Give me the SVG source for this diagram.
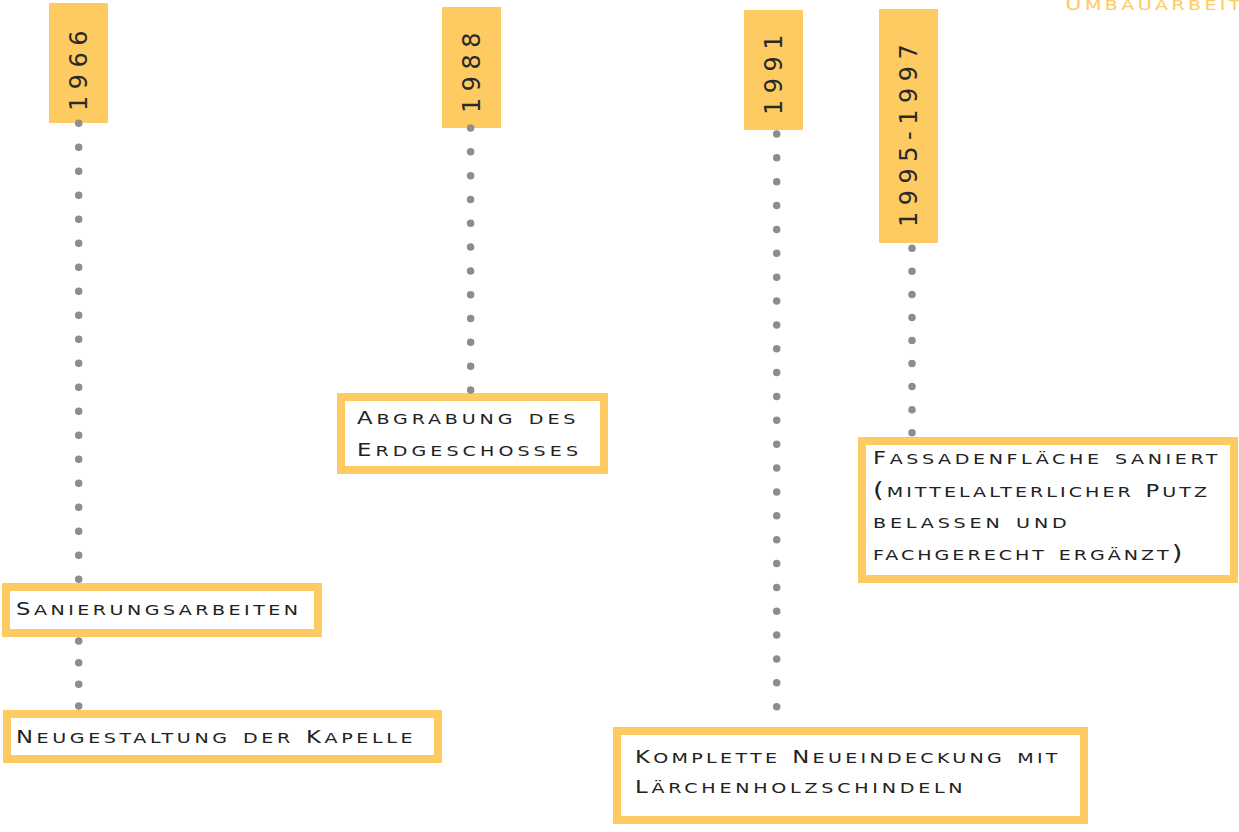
<svg xmlns="http://www.w3.org/2000/svg" width="1239" height="832" viewBox="0 0 1239 832">
<style>
.yb{fill:#FECB62;}
.tb{fill:#FFFFFF;stroke:#FECB62;stroke-width:8;}
.yt{font-family:"DejaVu Sans",sans-serif;font-size:24px;fill:#2a2a2a;letter-spacing:6.5px;}
.tt{font-family:"DejaVu Sans",sans-serif;font-size:21px;font-variant:small-caps;fill:#222222;}
.hd{font-family:"DejaVu Sans",sans-serif;font-size:21px;font-variant:small-caps;fill:#FECB62;}
.c{font-size:17.5px;}
.dot{fill:none;stroke:#8d8d8d;stroke-width:7.5;stroke-linecap:round;}
</style>
<rect width="1239" height="832" fill="#FFFFFF"/>
<g transform="translate(1065,10) scale(1.3,1)"><text class="hd" x="0" y="0" textLength="135" lengthAdjust="spacing"><tspan class="c">U</tspan>mbauarbeit</text></g>

<g id="y1966">
<rect class="yb" x="49" y="3" width="59" height="120"/>
<text class="yt" transform="translate(87,111) rotate(-90)" x="0" y="0">1966</text>
</g>
<g id="y1988">
<rect class="yb" x="442" y="7" width="59" height="121"/>
<text class="yt" transform="translate(480,113) rotate(-90)" x="0" y="0">1988</text>
</g>
<g id="y1991">
<rect class="yb" x="744" y="10" width="59" height="120"/>
<text class="yt" transform="translate(782,115) rotate(-90)" x="0" y="0">1991</text>
</g>
<g id="y1995">
<rect class="yb" x="879" y="9" width="59" height="234"/>
<text class="yt" transform="translate(917,227) rotate(-90)" x="0" y="0">1995-1997</text>
</g>

<g id="n-sanierung">
<rect class="tb" x="6" y="587" width="312" height="46"/>
<g transform="translate(16,615) scale(1.3,1)"><text class="tt" x="0" y="0" textLength="217" lengthAdjust="spacing"><tspan class="c">S</tspan>anierungsarbeiten</text></g>
</g>
<g id="n-neugestaltung">
<rect class="tb" x="7" y="714" width="431" height="45"/>
<g transform="translate(16,743) scale(1.3,1)"><text class="tt" x="0" y="0" textLength="305" lengthAdjust="spacing"><tspan class="c">N</tspan>eugestaltung der <tspan class="c">K</tspan>apelle</text></g>
</g>
<g id="n-abgrabung">
<rect class="tb" x="341" y="397" width="263" height="73"/>
<g transform="translate(357,424) scale(1.3,1)"><text class="tt" x="0" y="0" textLength="168" lengthAdjust="spacing"><tspan class="c">A</tspan>bgrabung des</text></g>
<g transform="translate(357,456) scale(1.3,1)"><text class="tt" x="0" y="0" textLength="170" lengthAdjust="spacing"><tspan class="c">E</tspan>rdgeschosses</text></g>
</g>
<g id="n-fassade">
<rect class="tb" x="862" y="441" width="372" height="138"/>
<g transform="translate(873,464) scale(1.3,1)"><text class="tt" x="0" y="0" textLength="265" lengthAdjust="spacing"><tspan class="c">F</tspan>assadenfläche saniert</text></g>
<g transform="translate(873,497) scale(1.3,1)"><text class="tt" x="0" y="0" textLength="257" lengthAdjust="spacing">(mittelalterlicher <tspan class="c">P</tspan>utz</text></g>
<g transform="translate(873,528) scale(1.3,1)"><text class="tt" x="0" y="0" textLength="149" lengthAdjust="spacing">belassen und</text></g>
<g transform="translate(873,560) scale(1.3,1)"><text class="tt" x="0" y="0" textLength="238" lengthAdjust="spacing">fachgerecht ergänzt)</text></g>
</g>
<g id="n-komplette">
<rect class="tb" x="617" y="731" width="467" height="89"/>
<g transform="translate(635,763) scale(1.3,1)"><text class="tt" x="0" y="0" textLength="325" lengthAdjust="spacing"><tspan class="c">K</tspan>omplette <tspan class="c">N</tspan>eueindeckung mit</text></g>
<g transform="translate(635,793) scale(1.3,1)"><text class="tt" x="0" y="0" textLength="252" lengthAdjust="spacing"><tspan class="c">L</tspan>ärchenholzschindeln</text></g>
</g>

<g id="connectors">
<line class="dot" x1="78.7" y1="123.3" x2="78.7" y2="580" stroke-dasharray="0 24"/>
<line class="dot" x1="78.7" y1="641" x2="78.7" y2="707" stroke-dasharray="0 21.667"/>
<line class="dot" x1="470.6" y1="128" x2="470.6" y2="391" stroke-dasharray="0 23.818"/>
<line class="dot" x1="776.7" y1="134" x2="776.7" y2="707.5" stroke-dasharray="0 23.862"/>
<line class="dot" x1="912" y1="248.3" x2="912" y2="433.5" stroke-dasharray="0 23.05"/>
</g>
</svg>
